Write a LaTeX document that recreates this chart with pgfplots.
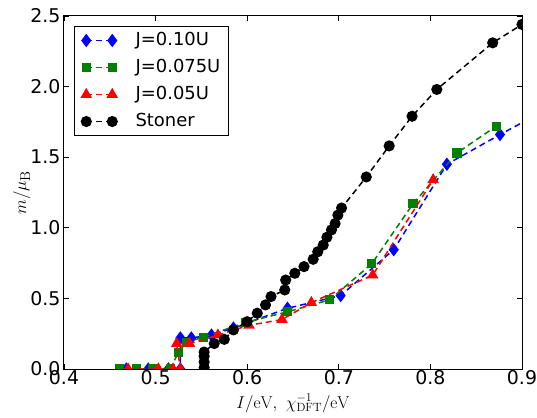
\documentclass[border=0pt]{standalone}
\usepackage{pgfplots}
\pgfplotsset{compat=1.18}
\usepackage[no-math]{fontspec}
\setmainfont{DejaVu Sans}
\begin{document}
\begin{tikzpicture}
\begin{axis}[
    at={(0,0)}, anchor=south west,
    width=458bp, height=353bp, scale only axis,
    xmin=0.4, xmax=0.9, ymin=0, ymax=2.5,
    xtick={0.4,0.5,0.6,0.7,0.8,0.9},
    xticklabels={0.4,0.5,0.6,0.7,0.8,0.9},
    ytick={0,0.5,1,1.5,2,2.5},
    yticklabels={0.0,0.5,1.0,1.5,2.0,2.5},
    tick align=inside, major tick length=5bp,
    axis line style={line width=1bp},
    tick style={line width=0.8bp, black},
    ticklabel style={font=\fontsize{19}{22}\selectfont},
    xticklabel style={yshift=2bp},
    xlabel={$I/\mathrm{eV},\ \chi^{-1}_{\mathrm{DFT}}/\mathrm{eV}$},
    ylabel={$m/\mu_{\mathrm{B}}$},
    label style={font=\fontsize{18}{21}\selectfont},
    ylabel style={font=\fontsize{19}{22}\selectfont},
    xlabel style={at={(axis description cs:0.5,-0.096)}, anchor=center},
    ylabel style={at={(axis description cs:-0.092,0.5)}, anchor=center},
    clip marker paths=true,
    every axis plot/.append style={line width=1.5bp, dash pattern=on 6bp off 4bp},
    legend image code/.code={\draw[#1] plot coordinates {(0bp,0bp) (26bp,0bp)};},
    legend style={at={(0.022,0.972)}, anchor=north west, draw=black, line width=0.8bp,
        font=\fontsize{18}{21}\selectfont, row sep=6.5bp, inner xsep=7bp, inner ysep=4bp,
        nodes={text height=14bp, text depth=3.5bp, inner sep=1.5bp},
        /tikz/every odd column/.append style={column sep=17bp}},
    legend cell align=left,
]
\addplot[blue, mark=diamond*, mark size=5.5bp, mark options={solid}] coordinates {
    (0.468,0) (0.492,0) (0.514,0) (0.527,0) (0.527,0.22) (0.539,0.22)
    (0.561,0.24) (0.585,0.29) (0.644,0.43) (0.702,0.52) (0.760,0.845)
    (0.818,1.45) (0.876,1.66) (0.93,1.85)
};
\addlegendentry{J=0.10U}
\addplot[green!50!black, mark=square*, mark size=3.8bp, mark options={solid}] coordinates {
    (0.461,0) (0.479,0) (0.497,0) (0.516,0) (0.525,0.12) (0.534,0.19)
    (0.552,0.225) (0.598,0.33) (0.644,0.405) (0.690,0.49) (0.736,0.745)
    (0.781,1.17) (0.829,1.53) (0.872,1.72)
};
\addlegendentry{J=0.075U}
\addplot[red, mark=triangle*, mark size=5.2bp, mark options={solid}] coordinates {
    (0.470,0) (0.503,0) (0.519,0) (0.527,0) (0.523,0.18) (0.537,0.18)
    (0.568,0.24) (0.602,0.31) (0.638,0.35) (0.670,0.47) (0.737,0.665)
    (0.803,1.34)
};
\addlegendentry{J=0.05U}
\addplot[black, mark=*, mark size=4.8bp, mark options={solid}] coordinates {
    (0.553,0.01) (0.553,0.05) (0.553,0.09) (0.553,0.12) (0.564,0.18)
    (0.575,0.21) (0.585,0.277) (0.600,0.335) (0.611,0.395) (0.620,0.454)
    (0.626,0.513) (0.641,0.56) (0.642,0.63) (0.652,0.678) (0.662,0.725)
    (0.672,0.777) (0.677,0.83) (0.683,0.878) (0.687,0.933) (0.692,0.985)
    (0.696,1.03) (0.699,1.09) (0.703,1.14) (0.730,1.36) (0.755,1.58)
    (0.780,1.79) (0.807,1.98) (0.868,2.31) (0.900,2.44)
};
\addlegendentry{Stoner}
\end{axis}
% fix the page to the reference's margins round the axis
\pgfresetboundingbox
\path[use as bounding box] (-64bp,-49bp) rectangle (473bp,369bp);
\end{tikzpicture}
\end{document}
